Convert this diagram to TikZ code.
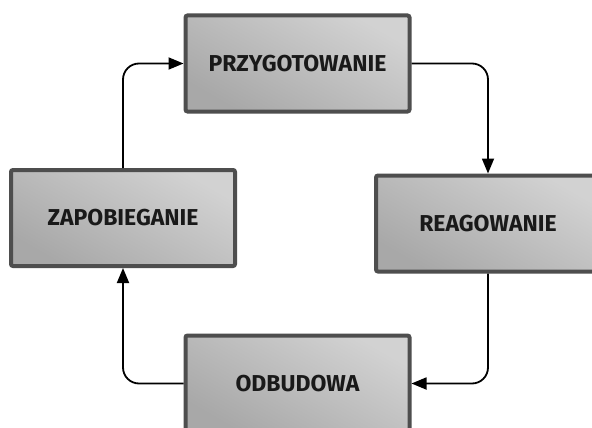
\documentclass[tikz,border=0pt]{standalone}
\usepackage{fontspec}
\setmainfont{Fira Sans}
\usetikzlibrary{arrows.meta}
\definecolor{boxedge}{HTML}{4E4E4E}
\definecolor{boxlight}{HTML}{D2D2D2}
\definecolor{boxdark}{HTML}{A8A8A8}
\begin{document}
\begin{tikzpicture}[x=1pt,y=-1pt,
  stage/.style={draw=boxedge, line width=4pt, rounded corners=2pt,
    top color=boxlight, bottom color=boxdark, shading angle=-30,
    minimum width=224pt, minimum height=96pt, inner sep=0pt,
    font=\bfseries\fontsize{23}{26}\selectfont, text=black!90},
  flow/.style={line width=1.8pt, rounded corners=16pt,
    -{Triangle[length=15pt,width=12pt]}}]
\fill[white] (0,0) rectangle (592,428);
\useasboundingbox (0,0) rectangle (592,428);
\begin{scope}
\clip (0,0) rectangle (592,428);
\node[stage] (prep) at (297.5,63.5) {PRZYGOTOWANIE};
\node[stage] (prev) at (123,218) {ZAPOBIEGANIE};
\node[stage] (resp) at (488,223.5) {REAGOWANIE};
\node[stage] (reb)  at (297.5,383.5) {ODBUDOWA};
\draw[flow] (prev.north) |- (prep.west);
\draw[flow] (prep.east) -| (resp.north);
\draw[flow] (resp.south) |- (reb.east);
\draw[flow] (reb.west) -| (prev.south);
\end{scope}
\end{tikzpicture}
\end{document}
